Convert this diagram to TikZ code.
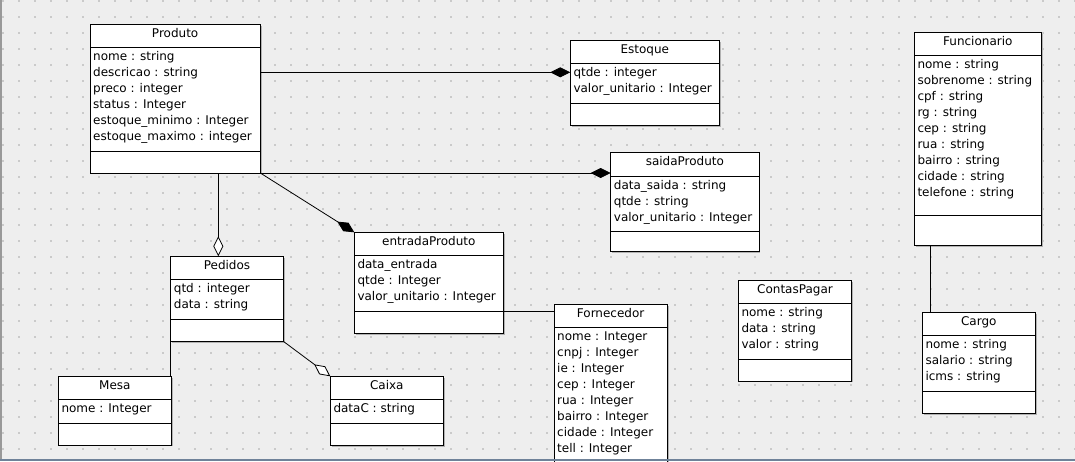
\documentclass[tikz,border=0pt]{standalone}
\usepackage{fontspec}
\setmainfont{DejaVu Sans}
\usetikzlibrary{arrows.meta,calc}

\definecolor{canvasbg}{HTML}{EEEEEE}
\definecolor{griddot}{HTML}{CACACA}
\definecolor{frameline}{HTML}{6F8299}

\tikzset{
  umlrect/.style={draw=black, fill=white, line width=1pt, inner sep=0pt, outer sep=0pt, anchor=north west},
  umlshadow/.style={fill=black!30},
  umltext/.style={inner sep=0pt, font=\fontsize{12}{14}\selectfont},
  comp/.style={line width=0.8pt, -{Diamond[length=20pt,width=10pt]}},
  aggr/.style={line width=0.8pt, -{Diamond[open,length=20pt,width=10pt,fill=white]}},
  plainlink/.style={line width=0.8pt}
}

% class box: name, x1, y1, x2, y2, header line, operations line, title, attributes
\newcommand{\umlbox}[9]{%
  \pgfmathsetmacro\bw{#4-#2}%
  \pgfmathsetmacro\bh{#5-#3}%
  \fill[umlshadow] (#2+1.3,#3+1.3) rectangle (#4+1.3,#5+1.3);
  \node[umlrect, minimum width=\bw pt, minimum height=\bh pt] (#1) at (#2,#3) {};
  \draw[line width=1pt] (#2,#6) -- (#4,#6);
  \draw[line width=1pt] (#2,#7) -- (#4,#7);
  \node[umltext, anchor=base] at ({(#2+#4)/2},{#3+13}) {#8};
  \foreach \a [count=\i] in {#9}
    \node[umltext, anchor=base west] at ({#2+3},{#6+13.5+16*(\i-1)}) {\a};
}

\begin{document}
\begin{tikzpicture}[x=1pt,y=-1pt]
  \useasboundingbox (0,0) rectangle (1075,461);
  \clip (0,0) rectangle (1075,461);
  \fill[canvasbg] (0,0) rectangle (1075,461);
  % dotted drawing grid
  \foreach \gx in {3,19,...,1075}
    \foreach \gy in {0.7,16.7,...,461}
      \fill[griddot] (\gx-0.9,\gy-0.9) rectangle (\gx+0.9,\gy+0.9);
  \draw[black!40, line width=1.5pt] (0.75,0) -- (0.75,461);

  \umlbox{produto}{90}{24.3}{260.3}{173}{47.3}{151}{Produto}
    {nome : string, descricao : string, preco : integer, status : Integer, estoque\_minimo : Integer, estoque\_maximo : integer}
  \umlbox{estoque}{570.3}{40.3}{719.3}{125.3}{63.3}{103.7}{Estoque}
    {qtde : integer, valor\_unitario : Integer}
  \umlbox{saida}{610.7}{152.7}{759}{251.7}{176}{231}{saidaProduto}
    {data\_saida : string, qtde : string, valor\_unitario : Integer}
  \umlbox{entrada}{354.3}{232.3}{503.3}{333.3}{255}{311.3}{entradaProduto}
    {data\_entrada, qtde : Integer, valor\_unitario : Integer}
  \umlbox{pedidos}{170.7}{256.3}{283.3}{341.3}{279}{319.3}{Pedidos}
    {qtd : integer, data : string}
  \umlbox{mesa}{58.3}{376.3}{171.5}{445}{399.3}{423.3}{Mesa}
    {nome : Integer}
  \umlbox{caixa}{330.3}{376.3}{443.3}{445.3}{399.3}{423.3}{Caixa}
    {dataC : string}
  \umlbox{fornecedor}{554}{304.3}{667.3}{490}{327.3}{600}{Fornecedor}
    {nome : Integer, cnpj : Integer, ie : Integer, cep : Integer, rua : Integer, bairro : Integer, cidade : Integer, tell : Integer}
  \umlbox{contas}{738.3}{280.7}{851.7}{381}{303.3}{359.3}{ContasPagar}
    {nome : string, data : string, valor : string}
  \umlbox{funcionario}{914.3}{32.3}{1041.3}{245.3}{55}{215.3}{Funcionario}
    {nome : string, sobrenome : string, cpf : string, rg : string, cep : string, rua : string, bairro : string, cidade : string, telefone : string}
  \umlbox{cargo}{922.3}{312.3}{1035.3}{413.3}{335}{391}{Cargo}
    {nome : string, salario : string, icms : string}

  % associations
  \coordinate (estIn) at ([yshift=-32pt]estoque.north west);
  \draw[comp] (estIn -| produto.east) -- (estIn);
  \draw[comp] (produto.south east) -- (produto.south east -| saida.west);
  \draw[comp] (produto.south east) -- (entrada.north west);
  \coordinate (pedIn) at ([xshift=47.6pt]pedidos.north west);
  \draw[aggr] (pedIn |- produto.south) -- (pedIn);
  \draw[plainlink] (pedidos.south west) -- (pedidos.south west |- mesa.north);
  \draw[aggr] (pedidos.south east) -- (caixa.north west);
  \coordinate (fornIn) at ([yshift=-7.5pt]fornecedor.north west);
  \draw[plainlink] (fornIn -| entrada.east) -- (fornIn);
  \coordinate (cargoIn) at ([xshift=8pt]cargo.north west);
  \draw[plainlink] (cargoIn |- funcionario.south) -- (cargoIn);

  % window frame edge
  \draw[frameline, line width=2pt] (0,460) -- (1075,460);
\end{tikzpicture}
\end{document}
